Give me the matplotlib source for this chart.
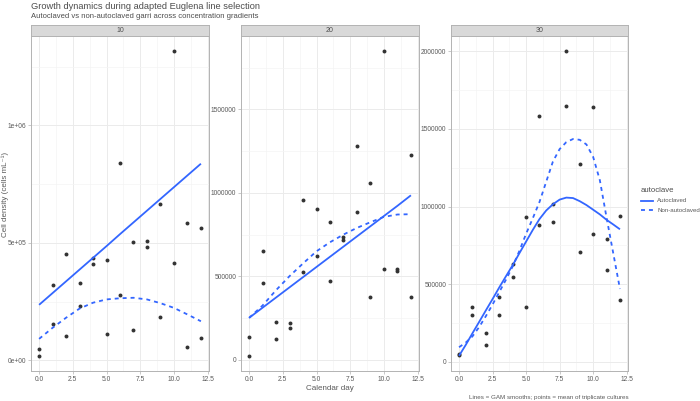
import matplotlib
matplotlib.use("Agg")
import matplotlib.pyplot as plt
from matplotlib.ticker import FixedLocator

plt.rcParams['font.family'] = ['Liberation Sans', 'DejaVu Sans']

# ---------------- data ----------------
days = list(range(13))
concentrations = ["10", "20", "30"]

# points (mean of triplicate cultures)
p10_auto = [46000, 320000, 453000, 331000, 436000, 425000, 840000, 503000, 507000, 665000, 1316000, 583000, 564000]
p10_non = [19000, 155000, 105000, 229000, 409000, 112000, 279000, 128000, 483000, 182000, 412000, 58000, 95000]

p20_auto = [135000, 650000, 225000, 219000, 954000, 902000, 824000, 737000, 1283000, 1060000, 1848000, 545000, 1225000]
p20_non = [24000, 459000, 122000, 193000, 523000, 620000, 471000, 716000, 884000, 375000, 545000, 531000, 375000]

p30_auto = [54000, 352000, 185000, 421000, 632000, 934000, 1581000, 1018000, 1648000, 1275000, 1644000, 790000, 940000]
p30_non = [43000, 302000, 110000, 300000, 544000, 354000, 884000, 904000, 2000000, 705000, 822000, 589000, 401000]

# GAM smooths
s10_days = days
s10_auto = [236000, 286000, 336000, 386000, 436000, 486000, 537000, 587000, 637000, 687000, 737000, 787000, 837000]
s10_non = [91000, 138000, 181000, 220000, 245000, 259000, 264000, 266000, 259000, 243000, 223000, 195000, 166000]

s20_days = days
s20_auto = [251000, 312000, 373000, 434000, 495000, 556000, 617000, 678000, 739000, 800000, 861000, 922000, 985000]
s20_non = [251000, 325000, 417000, 501000, 577000, 650000, 704000, 750000, 790000, 824000, 856000, 870000, 872000]

s30_days = [0, 0.5, 1, 1.5, 2, 2.5, 3, 3.5, 4, 4.5, 5, 5.5, 6, 6.5, 7, 7.5, 8, 8.5, 9, 9.5, 10, 10.5, 11, 11.5, 12]
s30_auto = [40000, 110000, 185000, 258000, 332000, 405000, 480000, 552000, 623000, 700000, 775000, 850000, 920000,
            975000, 1015000, 1045000, 1058000, 1055000, 1035000, 1010000, 980000, 950000, 915000, 885000, 854000]
s30_non = [95000, 125000, 165000, 225000, 295000, 370000, 450000, 530000, 615000, 715000, 825000, 925000, 1030000,
           1160000, 1290000, 1370000, 1415000, 1435000, 1430000, 1400000, 1320000, 1170000, 930000, 700000, 470000]

x_ticks = [0.0, 2.5, 5.0, 7.5, 10.0, 12.5]
y_ticks = [
    [0, 500000, 1000000],
    [0, 500000, 1000000, 1500000],
    [0, 500000, 1000000, 1500000, 2000000],
]
y_labels = [
    ["0e+00", "5e+05", "1e+06"],
    ["0", "500000", "1000000", "1500000"],
    ["0", "500000", "1000000", "1500000", "2000000"],
]

panels = [
    (p10_auto, p10_non, s10_days, s10_auto, s10_non),
    (p20_auto, p20_non, s20_days, s20_auto, s20_non),
    (p30_auto, p30_non, s30_days, s30_auto, s30_non),
]

# ---------------- layout ----------------
W, H = 700, 401
fig = plt.figure(figsize=(7.0, 4.01), dpi=100)


def box(l, t, r, b):
    return [l / W, 1 - b / H, (r - l) / W, (b - t) / H]


panel_x = [(31, 209), (241, 419), (451, 628)]
p_top, p_bot = 36, 371
s_top = 25

blue = "#3366FF"
pt_col = "#333333"
grid_major = "#EBEBEB"
grid_minor = "#F4F4F4"
border = "#B3B3B3"
txt = "#5A5A5A"

for i, ((l, r), (pa, pn, sd, sa, sn)) in enumerate(zip(panel_x, panels)):
    ax = fig.add_axes(box(l, p_top, r, p_bot))
    ax.set_facecolor("white")
    allv = pa + pn + sa + sn
    lo, hi = min(allv), max(allv)
    rng = hi - lo
    ax.set_ylim(lo - 0.05 * rng, hi + 0.05 * rng)
    ax.set_xlim(-0.6, 12.6)

    yt = y_ticks[i]
    minor_y = [v + 250000 for v in yt]
    ax.xaxis.set_major_locator(FixedLocator(x_ticks))
    ax.xaxis.set_minor_locator(FixedLocator([1.25, 3.75, 6.25, 8.75, 11.25]))
    ax.yaxis.set_major_locator(FixedLocator(yt))
    ax.yaxis.set_minor_locator(FixedLocator(minor_y))
    ax.grid(which="major", color=grid_major, lw=0.7, zorder=0)
    ax.grid(which="minor", color=grid_minor, lw=0.5, zorder=0)
    ax.set_axisbelow(True)

    ax.set_xticklabels(["0.0", "2.5", "5.0", "7.5", "10.0", "12.5"])
    ax.set_yticklabels(y_labels[i])
    ax.tick_params(which="major", length=2.2, width=0.5, color=border,
                   labelsize=4.8, labelcolor=txt, pad=1.2)
    ax.tick_params(which="minor", length=0)
    for sp in ax.spines.values():
        sp.set_color(border)
        sp.set_linewidth(0.7)

    ax.scatter(days, pa, s=8, color=pt_col, zorder=3, linewidths=0)
    ax.scatter(days, pn, s=8, color=pt_col, zorder=3, linewidths=0)
    ax.plot(sd, sa, color=blue, lw=1.3, zorder=4, solid_capstyle="butt")
    ax.plot(sd, sn, color=blue, lw=1.3, zorder=4, linestyle=(0, (2.2, 2.2)))

    # strip
    sax = fig.add_axes(box(l, s_top, r, p_top))
    sax.set_facecolor("#D9D9D9")
    sax.set_xticks([])
    sax.set_yticks([])
    for sp in sax.spines.values():
        sp.set_color(border)
        sp.set_linewidth(0.7)
    sax.text(0.5, 0.5, concentrations[i], ha="center", va="center",
             fontsize=5, color="#4D4D4D", transform=sax.transAxes)

# axis titles
fig.text(330 / W, 1 - 388 / H, "Calendar day", ha="center", va="center",
         fontsize=5.8, color=txt)
fig.text(5 / W, 1 - 194 / H, "Cell density (cells mL⁻¹)", ha="center", va="center",
         rotation=90, fontsize=5.8, color=txt)

# titles
fig.text(31 / W, 1 - 2 / H, "Growth dynamics during adapted Euglena line selection",
         ha="left", va="top", fontsize=6.7, color="#4D4D4D")
fig.text(31 / W, 1 - 13 / H, "Autoclaved vs non-autoclaved garri across concentration gradients",
         ha="left", va="top", fontsize=5.5, color="#4D4D4D")
fig.text(629 / W, 1 - 397.5 / H, "Lines = GAM smooths; points = mean of triplicate cultures",
         ha="right", va="center", fontsize=4.5, color=txt)

# legend
fig.text(641 / W, 1 - 190.5 / H, "autoclave", ha="left", va="center", fontsize=5.6, color="#4D4D4D")
lx0, lx1 = 641, 653
for k, (lab, ls) in enumerate([("Autoclaved", "-"), ("Non-autoclaved", (0, (2.2, 2.2)))]):
    yy = 200.5 + 9.5 * k
    fig.add_artist(plt.Line2D([lx0 / W, lx1 / W], [1 - yy / H, 1 - yy / H],
                              color=blue, lw=1.3, linestyle=ls, transform=fig.transFigure))
    fig.text(657 / W, 1 - yy / H, lab, ha="left", va="center", fontsize=4.4, color=txt)

fig.savefig("out.png", dpi=100)
